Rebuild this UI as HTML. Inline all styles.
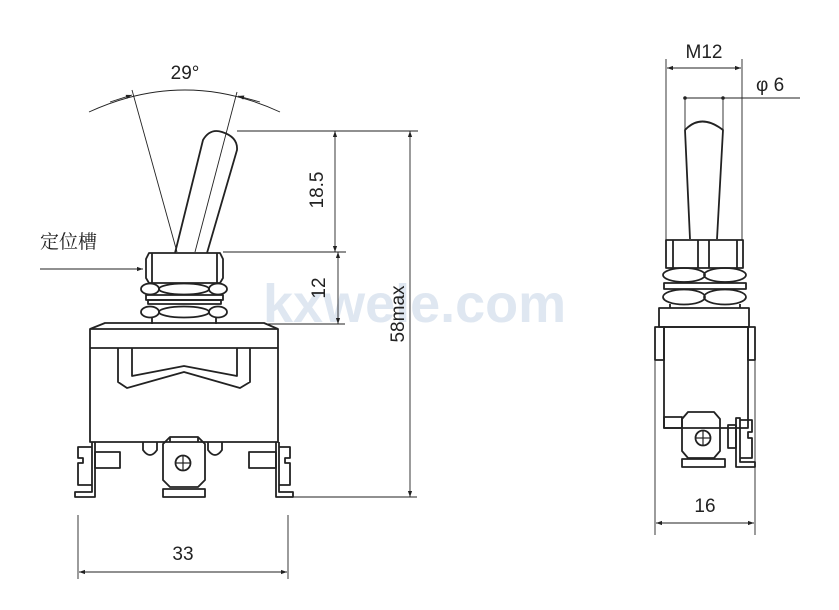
<!DOCTYPE html>
<html><head><meta charset="utf-8"><style>
html,body{margin:0;padding:0;background:#fff;width:839px;height:610px;overflow:hidden}
svg{display:block}
text{font-family:"Liberation Sans",Arial,sans-serif;fill:#222}
</style></head><body>
<svg width="839" height="610" viewBox="0 0 839 610" xmlns="http://www.w3.org/2000/svg">
<defs>
<marker id="a" viewBox="0 0 10 10" refX="10" refY="5" markerWidth="11" markerHeight="6" orient="auto-start-reverse" markerUnits="userSpaceOnUse"><path d="M0,1.5 L10,5 L0,8.5 Z" fill="#222"/></marker>
</defs>
<text x="263" y="322" font-size="54" font-weight="bold" style="fill:#dfe7f1">kxwele.com</text>
<g fill="none" stroke="#222" stroke-width="0.9">
<line x1="132" y1="90" x2="177" y2="252"/>
<line x1="237" y1="92" x2="195" y2="252"/>
<path d="M89,112 Q185,68 280,112"/>
<line x1="110" y1="102" x2="132" y2="95" marker-end="url(#a)"/>
<line x1="260" y1="102" x2="238" y2="96" marker-end="url(#a)"/>
<line x1="237" y1="131" x2="418" y2="131"/>
<line x1="223" y1="252" x2="346" y2="252"/>
<line x1="335" y1="131" x2="335" y2="252" marker-start="url(#a)" marker-end="url(#a)"/>
<line x1="265" y1="324" x2="345" y2="324"/>
<line x1="338" y1="252" x2="338" y2="324" marker-start="url(#a)" marker-end="url(#a)"/>
<line x1="290" y1="497" x2="417" y2="497"/>
<line x1="410" y1="131" x2="410" y2="497" marker-start="url(#a)" marker-end="url(#a)"/>
<line x1="78" y1="515" x2="78" y2="579"/>
<line x1="288" y1="515" x2="288" y2="579"/>
<line x1="79" y1="572" x2="287" y2="572" marker-start="url(#a)" marker-end="url(#a)"/>
<line x1="40" y1="269" x2="143" y2="269" marker-end="url(#a)"/>
<line x1="666" y1="59" x2="666" y2="240"/>
<line x1="742" y1="59" x2="742" y2="240"/>
<line x1="667" y1="68" x2="741" y2="68" marker-start="url(#a)" marker-end="url(#a)"/>
<line x1="685" y1="98" x2="800" y2="98"/>
<line x1="685" y1="98" x2="685" y2="130"/>
<line x1="723" y1="98" x2="723" y2="130"/>
<line x1="655" y1="330" x2="655" y2="535"/>
<line x1="755" y1="330" x2="755" y2="535"/>
<line x1="656" y1="523" x2="754" y2="523" marker-start="url(#a)" marker-end="url(#a)"/>
</g>
<circle cx="685" cy="98" r="1.8" fill="#222"/><circle cx="723" cy="98" r="1.8" fill="#222"/>
<g fill="none" stroke="#222" stroke-width="1.8" stroke-linejoin="round">
<path d="M175,253 L203,140 Q210,128 222,132 Q238,137 237,150 L207,253"/>
<path d="M149,253 L220,253 L223,259 L223,278 L220,283 L149,283 L146,278 L146,259 Z"/>
<line x1="152" y1="253" x2="152" y2="283"/><line x1="217" y1="253" x2="217" y2="283"/>
<ellipse cx="150" cy="289" rx="9" ry="5.5"/><ellipse cx="184" cy="289" rx="25" ry="5.5"/><ellipse cx="218" cy="289" rx="9" ry="5.5"/>
<rect x="146" y="295" width="77" height="5"/>
<rect x="148" y="300" width="73" height="4"/>
<ellipse cx="150" cy="312" rx="9" ry="5.5"/><ellipse cx="184" cy="312" rx="25" ry="5.5"/><ellipse cx="218" cy="312" rx="9" ry="5.5"/>
<line x1="152" y1="317" x2="152" y2="324"/><line x1="216" y1="317" x2="216" y2="324"/>
<path d="M90,329 L105,323 L264,323 L278,329"/>
<rect x="90" y="329" width="188" height="113"/>
<line x1="90" y1="348" x2="278" y2="348"/>
<path d="M118,348 L118,382 L127,388 L184,372 L240,388 L250,382 L250,348"/>
<path d="M132,348 L132,376 L184,366 L237,376 L237,348"/>
<path d="M92,442 L92,492 L75,492 L75,497 L95,497 L95,442"/>
<path d="M92,447 L78,447 L78,458 L83,458 L83,463 L78,463 L78,485 L92,485"/>
<rect x="95" y="452" width="25" height="16"/>
<path d="M279,442 L279,492 L293,492 L293,497 L276,497 L276,442"/>
<path d="M279,447 L290,447 L290,458 L285,458 L285,463 L290,463 L290,485 L279,485"/>
<rect x="249" y="452" width="27" height="16"/>
<path d="M143,442 L143,450 Q150,460 157,450 L157,442"/>
<path d="M208,442 L208,450 Q215,460 222,450 L222,442"/>
<path d="M170,437 L198,437 L205,444 L205,480 L198,487 L170,487 L163,480 L163,444 Z"/>
<line x1="170" y1="437" x2="170" y2="442"/><line x1="198" y1="437" x2="198" y2="442"/>
<rect x="163" y="489" width="42" height="8"/>
<circle cx="183" cy="463" r="7.5"/>
<line x1="176" y1="463" x2="190" y2="463" stroke-width="1.2"/><line x1="183" y1="456" x2="183" y2="470" stroke-width="1.2"/>
<path d="M690,239 L685,130 Q701,113 723,130 L717,239"/>
<rect x="666" y="240" width="77" height="28"/>
<line x1="673" y1="240" x2="673" y2="268"/><line x1="698" y1="240" x2="698" y2="268"/>
<line x1="709" y1="240" x2="709" y2="268"/><line x1="737" y1="240" x2="737" y2="268"/>
<ellipse cx="684" cy="275" rx="21" ry="7"/><ellipse cx="725" cy="275" rx="21" ry="7"/>
<rect x="664" y="283" width="82" height="6"/>
<ellipse cx="684" cy="297" rx="21" ry="7.5"/><ellipse cx="725" cy="297" rx="21" ry="7.5"/>
<line x1="670" y1="304" x2="670" y2="308"/><line x1="740" y1="304" x2="740" y2="308"/>
<rect x="659" y="308" width="90" height="19"/>
<rect x="664" y="327" width="84" height="101"/>
<rect x="655" y="327" width="9" height="33"/>
<rect x="748" y="327" width="7" height="33"/>
<rect x="664" y="417" width="18" height="11"/>
<path d="M688,412 L714,412 L720,419 L720,451 L714,458 L688,458 L682,451 L682,419 Z"/>
<rect x="682" y="459" width="43" height="8"/>
<circle cx="703" cy="438" r="7.5"/>
<line x1="696" y1="438" x2="710" y2="438" stroke-width="1.2"/><line x1="703" y1="431" x2="703" y2="445" stroke-width="1.2"/>
<rect x="728" y="425" width="8" height="23"/>
<path d="M736,418 L736,467 L755,467 L755,462 L740,462 L740,418 Z"/>
<path d="M740,420 L752,420 L752,432 L748,432 L748,438 L752,438 L752,458 L740,458"/>
</g>
<text x="185" y="79" font-size="19" text-anchor="middle">29°</text>
<text x="40" y="248" font-size="19" style="font-family:'Noto Serif CJK SC','Noto Sans CJK SC',serif">定位槽</text>
<text transform="translate(323,190) rotate(-90)" font-size="19" text-anchor="middle">18.5</text>
<text transform="translate(325,288) rotate(-90)" font-size="19" text-anchor="middle">12</text>
<text transform="translate(404,314) rotate(-90)" font-size="19" text-anchor="middle">58max</text>
<text x="183" y="560" font-size="19" text-anchor="middle">33</text>
<text x="704" y="58" font-size="19" text-anchor="middle">M12</text>
<text x="756" y="91" font-size="19">φ 6</text>
<text x="705" y="553" font-size="19" text-anchor="middle" visibility="hidden">16</text>
<text x="705" y="512" font-size="19" text-anchor="middle">16</text>
</svg>
</body></html>
